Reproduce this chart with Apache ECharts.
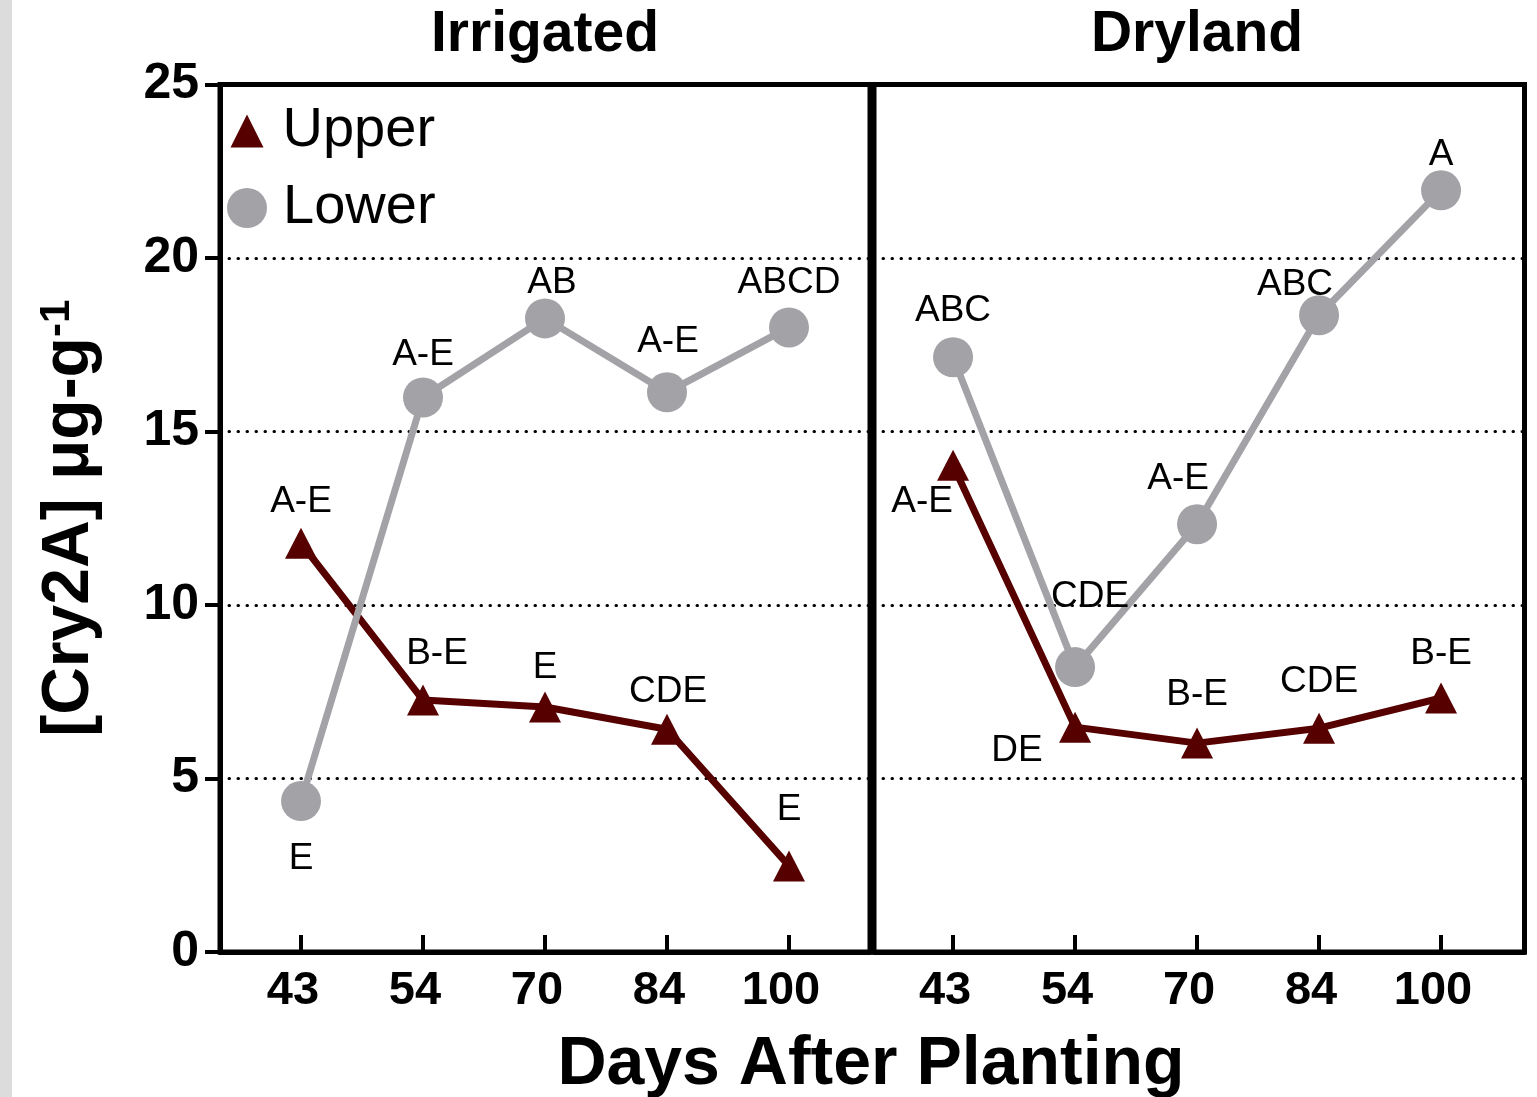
<!DOCTYPE html>
<html>
<head>
<meta charset="utf-8">
<title>Cry2A concentration by days after planting</title>
<script src="https://cdn.jsdelivr.net/npm/echarts@6/dist/echarts.min.js"></script>
<style>
  html, body { margin: 0; padding: 0; background: #fff; }
  #chart { width: 1537px; height: 1097px; }
</style>
</head>
<body>
<div id="chart"></div>
<script>
// Sampling days (shown as evenly spaced categories)
const days = ['43', '54', '70', '84', '100'];

// [Cry2A] in µg/g, upper and lower canopy
const irrigatedUpper = [11.78, 7.26, 7.06, 6.42, 2.48];
const irrigatedLower = [4.35, 15.98, 18.26, 16.13, 18.0];
const drylandUpper = [14.03, 6.48, 6.02, 6.45, 7.32];
const drylandLower = [17.14, 8.21, 12.33, 18.35, 21.95];

// Mean separation letters
const irrigatedUpperLetters = ['A-E', 'B-E', 'E', 'CDE', 'E'];
const irrigatedLowerLetters = ['E', 'A-E', 'AB', 'A-E', 'ABCD'];
const drylandUpperLetters = ['A-E', 'DE', 'B-E', 'CDE', 'B-E'];
const drylandLowerLetters = ['ABC', 'CDE', 'A-E', 'ABC', 'A'];

// Y axis ticks
const yTicks = [0, 5, 10, 15, 20, 25];

// Label placement relative to each marker (px)
const letterOffsets = {
  irrigatedUpper: [[0, -41], [14, -46], [0, -39], [1, -37], [0, -56]],
  irrigatedLower: [[0, 58], [0, -43], [7, -36], [1, -50], [0, -45]],
  drylandUpper: [[-31, 37], [-58, 24], [0, -48], [0, -46], [0, -44]],
  drylandLower: [[0, -46], [15, -70], [-19, -45], [-24, -30], [0, -36]]
};

const FONT = '"Liberation Sans", Arial, Helvetica, sans-serif';
const UPPER_COLOR = '#560000';
const LOWER_COLOR = '#a3a3a7';

function points(values, letters, offsets) {
  return values.map((v, i) => ({
    value: [i, v],
    label: { formatter: letters[i], offset: offsets[i] }
  }));
}

function lineSeries(name, axisIndex, values, letters, offsets) {
  const upper = name === 'Upper';
  return {
    name: name,
    type: 'line',
    xAxisIndex: axisIndex,
    yAxisIndex: axisIndex,
    data: points(values, letters, offsets),
    symbol: upper ? 'triangle' : 'circle',
    symbolSize: upper ? [32, 31] : 40,
    itemStyle: { color: upper ? UPPER_COLOR : LOWER_COLOR },
    lineStyle: { color: upper ? UPPER_COLOR : LOWER_COLOR, width: upper ? 7 : 7 },
    label: {
      show: true,
      position: 'inside',
      align: 'center',
      verticalAlign: 'middle',
      color: '#000',
      fontFamily: FONT,
      fontSize: 37
    },
    emphasis: { disabled: true }
  };
}

function xAxisFor(gridIndex, min, max) {
  return {
    type: 'value',
    gridIndex: gridIndex,
    min: min,
    max: max,
    axisLine: { show: true, onZero: false, lineStyle: { color: '#000', width: 5 } },
    axisTick: {
      show: true,
      inside: true,
      length: 17,
      customValues: [0, 1, 2, 3, 4],
      lineStyle: { color: '#000', width: 4 }
    },
    axisLabel: {
      show: true,
      customValues: [0, 1, 2, 3, 4],
      formatter: v => days[Math.round(v)],
      margin: 16,
      padding: [0, 16, 0, 0],
      color: '#000',
      fontFamily: FONT,
      fontWeight: 'bold',
      fontSize: 47
    },
    splitLine: { show: false }
  };
}

const dotted = { color: '#000', width: 3, type: [0.5, 8.5], cap: 'round' };

const option = {
  animation: false,
  backgroundColor: '#fff',
  grid: [
    { left: 220, top: 84.5, width: 650, height: 867.5, show: true, borderColor: '#000', borderWidth: 5, backgroundColor: 'transparent' },
    { left: 874, top: 84.5, width: 650.5, height: 867.5, show: true, borderColor: '#000', borderWidth: 5, backgroundColor: 'transparent' }
  ],
  xAxis: [
    xAxisFor(0, -0.664, 4.664),
    xAxisFor(1, -0.648, 4.684)
  ],
  yAxis: [
    {
      type: 'value',
      gridIndex: 0,
      min: yTicks[0],
      max: yTicks[yTicks.length - 1],
      interval: 5,
      axisLine: { show: true, onZero: false, lineStyle: { color: '#000', width: 5 } },
      axisTick: { show: true, length: 15, lineStyle: { color: '#000', width: 4 } },
      axisLabel: {
        margin: 21,
        color: '#000',
        fontFamily: FONT,
        fontWeight: 'bold',
        fontSize: 50
      },
      splitLine: { show: true, lineStyle: dotted },
      name: '{m|[Cry2A] μg-g}{s|-1}',
      nameLocation: 'middle',
      nameRotate: 90,
      nameGap: 116,
      nameTextStyle: {
        color: '#000',
        fontFamily: FONT,
        fontWeight: 'bold',
        fontSize: 66,
        rich: {
          m: { fontFamily: FONT, fontWeight: 'bold', fontSize: 66, color: '#000' },
          s: { fontFamily: FONT, fontWeight: 'bold', fontSize: 42, color: '#000', verticalAlign: 'top', padding: [0, 0, 26, 0] }
        }
      }
    },
    {
      type: 'value',
      gridIndex: 1,
      min: yTicks[0],
      max: yTicks[yTicks.length - 1],
      interval: 5,
      axisLine: { show: false, onZero: false },
      axisTick: { show: false },
      axisLabel: { show: false },
      splitLine: { show: true, lineStyle: dotted }
    }
  ],
  legend: [
    {
      data: [{ name: 'Upper', icon: 'triangle' }],
      left: 230.5,
      top: 103,
      padding: 0,
      itemWidth: 33,
      itemHeight: 33,
      selectedMode: false,
      textStyle: { color: '#000', fontFamily: FONT, fontSize: 56, padding: [0, 0, 0, 14] }
    },
    {
      data: [{ name: 'Lower', icon: 'circle' }],
      left: 227,
      top: 180,
      padding: 0,
      itemWidth: 40,
      itemHeight: 40,
      selectedMode: false,
      textStyle: { color: '#000', fontFamily: FONT, fontSize: 56, padding: [0, 0, 0, 11] }
    }
  ],
  graphic: [
    { type: 'rect', left: 0, top: 0, shape: { width: 12, height: 1097 }, style: { fill: '#dcdcdc' }, silent: true, z: -10 },
    { type: 'text', x: 545, y: 35, style: { text: 'Irrigated', align: 'center', verticalAlign: 'middle', fill: '#000', font: 'bold 57px ' + FONT }, silent: true },
    { type: 'text', x: 1197, y: 35, style: { text: 'Dryland', align: 'center', verticalAlign: 'middle', fill: '#000', font: 'bold 57px ' + FONT }, silent: true },
    { type: 'text', x: 871, y: 1065, style: { text: 'Days After Planting', align: 'center', verticalAlign: 'middle', fill: '#000', font: 'bold 68px ' + FONT }, silent: true }
  ],
  series: [
    lineSeries('Upper', 0, irrigatedUpper, irrigatedUpperLetters, letterOffsets.irrigatedUpper),
    lineSeries('Lower', 0, irrigatedLower, irrigatedLowerLetters, letterOffsets.irrigatedLower),
    lineSeries('Lower', 1, drylandLower, drylandLowerLetters, letterOffsets.drylandLower),
    lineSeries('Upper', 1, drylandUpper, drylandUpperLetters, letterOffsets.drylandUpper)
  ]
};

const chart = echarts.init(document.getElementById('chart'), null, { renderer: 'canvas' });
chart.setOption(option);
</script>
</body>
</html>
